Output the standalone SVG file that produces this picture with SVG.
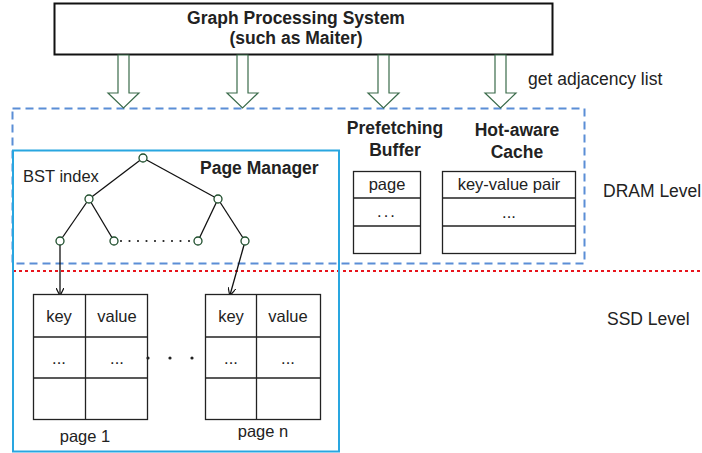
<svg xmlns="http://www.w3.org/2000/svg" width="702" height="453" viewBox="0 0 702 453">
<defs>
<style>
text{font-family:"Liberation Sans",Arial,sans-serif;fill:#222}
.b{font-weight:bold;font-size:17.5px}
.n{font-size:17.5px}
.m{font-size:16.5px}
.tbl{fill:#fff;stroke:#222;stroke-width:1.3}
.ln{stroke:#222;stroke-width:1.3;fill:none}
.blk{fill:#fff;stroke:#3a6b4a;stroke-width:1.2}
.nd{fill:#fff;stroke:#1d4d2b;stroke-width:1.3}
.edge{stroke:#111;stroke-width:1.3;fill:none}
</style>
<marker id="ah" viewBox="0 0 10 10" refX="9" refY="5" markerWidth="8" markerHeight="8" orient="auto" markerUnits="userSpaceOnUse">
<path d="M0,0 L10,5 L0,10" fill="none" stroke="#111" stroke-width="1.5"/>
</marker>
</defs>
<rect width="702" height="453" fill="#fff"/>

<g id="dram-region">
<rect x="12.5" y="108.5" width="572" height="155" fill="none" stroke="#5b8ed6" stroke-width="2" stroke-dasharray="8,5"/>
</g>
<g id="level-divider">
<line x1="13" y1="271" x2="702" y2="271" stroke="#e8141c" stroke-width="2" stroke-dasharray="3,3"/>
</g>

<g id="graph-processing-system">
<rect x="54.5" y="3.5" width="498" height="51" fill="#fff" stroke="#111" stroke-width="2"/>
<text class="b" x="296" y="24" text-anchor="middle">Graph Processing System</text>
<text class="b" x="296" y="44" text-anchor="middle">(such as Maiter)</text>
</g>

<g id="connectors">
<path class="blk" d="M118,55 V93 H108 L123.5,108 L139,93 H129 V55 Z"/>
<path class="blk" d="M237,55 V93 H227 L242.5,108 L258,93 H248 V55 Z"/>
<path class="blk" d="M378,55 V93 H368 L383.5,108 L399,93 H389 V55 Z"/>
<path class="blk" d="M495,55 V93 H485 L500.5,108 L516,93 H506 V55 Z"/>
<line class="edge" x1="143" y1="158" x2="89" y2="199"/>
<line class="edge" x1="143" y1="158" x2="218" y2="199"/>
<line class="edge" x1="89" y1="199" x2="60" y2="241"/>
<line class="edge" x1="89" y1="199" x2="114" y2="241"/>
<line class="edge" x1="218" y1="199" x2="198" y2="241"/>
<line class="edge" x1="218" y1="199" x2="245" y2="241"/>
<line x1="121" y1="241" x2="193" y2="241" stroke="#222" stroke-width="2.2" stroke-dasharray="0,8.5" stroke-linecap="round"/>
<line class="edge" x1="60" y1="245" x2="60" y2="295" marker-end="url(#ah)"/>
<line class="edge" x1="244" y1="245" x2="230" y2="295" marker-end="url(#ah)"/>
<text class="n" x="528" y="85">get adjacency list</text>
</g>

<g id="page-manager">
<rect x="13" y="150.5" width="326" height="301" fill="none" stroke="#29a6e0" stroke-width="2"/>
<text class="b" x="200" y="174">Page Manager</text>
<text class="m" x="23" y="182">BST index</text>
</g>

<g id="bst-index">
<circle class="nd" cx="143" cy="158" r="4"/>
<circle class="nd" cx="89" cy="199" r="4"/>
<circle class="nd" cx="218" cy="199" r="4"/>
<circle class="nd" cx="60" cy="241" r="4"/>
<circle class="nd" cx="114" cy="241" r="4"/>
<circle class="nd" cx="198" cy="241" r="4"/>
<circle class="nd" cx="245" cy="241" r="4"/>
</g>

<g id="page-1">
<rect class="tbl" x="33.5" y="294.5" width="114" height="125"/>
<line class="ln" x1="85.5" y1="294" x2="85.5" y2="420"/>
<line class="ln" x1="33" y1="337" x2="148" y2="337"/>
<line class="ln" x1="33" y1="378" x2="148" y2="378"/>
<text class="m" x="59" y="322" text-anchor="middle">key</text>
<text class="m" x="117" y="322" text-anchor="middle">value</text>
<text class="m" x="59" y="364" text-anchor="middle">...</text>
<text class="m" x="117" y="364" text-anchor="middle">...</text>
<text class="m" x="85" y="442" text-anchor="middle">page 1</text>
</g>

<g id="page-gap">
<circle cx="148" cy="358" r="1.6" fill="#222"/>
<circle cx="170" cy="358" r="1.6" fill="#222"/>
<circle cx="192" cy="358" r="1.6" fill="#222"/>
</g>

<g id="page-n">
<rect class="tbl" x="205.5" y="294.5" width="115" height="125"/>
<line class="ln" x1="256.5" y1="294" x2="256.5" y2="420"/>
<line class="ln" x1="205" y1="337" x2="321" y2="337"/>
<line class="ln" x1="205" y1="378" x2="321" y2="378"/>
<text class="m" x="231" y="322" text-anchor="middle">key</text>
<text class="m" x="288" y="322" text-anchor="middle">value</text>
<text class="m" x="231" y="364" text-anchor="middle">...</text>
<text class="m" x="288" y="364" text-anchor="middle">...</text>
<text class="m" x="263" y="437" text-anchor="middle">page n</text>
</g>

<g id="prefetching-buffer">
<text class="b" x="395" y="134" text-anchor="middle">Prefetching</text>
<text class="b" x="395" y="156" text-anchor="middle">Buffer</text>
<rect class="tbl" x="353.5" y="171.5" width="67" height="82"/>
<line class="ln" x1="353" y1="198" x2="421" y2="198"/>
<line class="ln" x1="353" y1="226" x2="421" y2="226"/>
<text class="m" x="387" y="190" text-anchor="middle">page</text>
<text class="m" x="387" y="217" text-anchor="middle" letter-spacing="2">...</text>
</g>

<g id="hot-aware-cache">
<text class="b" x="517" y="136" text-anchor="middle">Hot-aware</text>
<text class="b" x="517" y="158" text-anchor="middle">Cache</text>
<rect class="tbl" x="442.5" y="171.5" width="133" height="82"/>
<line class="ln" x1="442" y1="198" x2="576" y2="198"/>
<line class="ln" x1="442" y1="226" x2="576" y2="226"/>
<text class="m" x="509" y="190" text-anchor="middle">key-value pair</text>
<text class="m" x="509" y="218" text-anchor="middle">...</text>
</g>

<g id="level-labels">
<text class="n" x="603" y="197">DRAM Level</text>
<text class="n" x="607" y="325">SSD Level</text>
</g>
</svg>
